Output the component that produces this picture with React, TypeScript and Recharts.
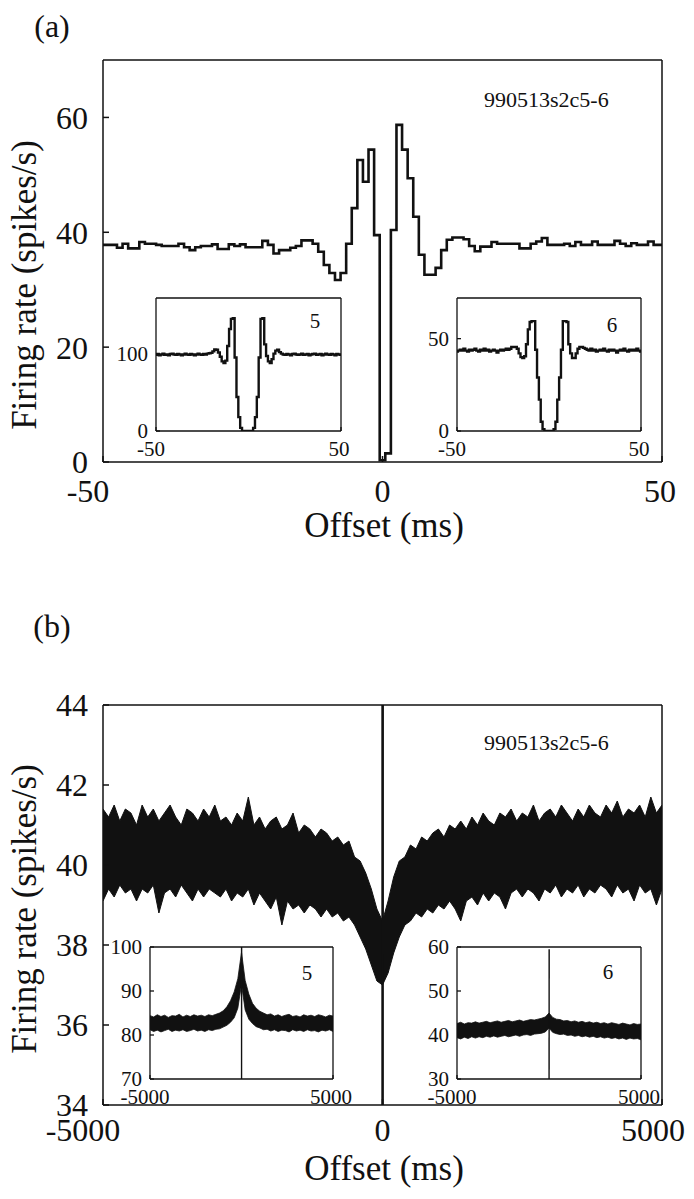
import React from "react";
import { Area, ComposedChart, Line, XAxis, YAxis } from "recharts";

const INK = "#111";
const SERIF = '"Liberation Serif", "Times New Roman", serif';

// (a) 1 ms cross-correlogram, one value per bin centred on -50 … 50 ms
const shortStartMs = -50;
const shortStepMs = 1;
const pairRates = [
  37.8, 37.8, 37.8, 37.3, 38.0, 37.2, 37.2, 38.3, 38.0, 38.0,
  37.8, 37.6, 37.6, 37.6, 38.0, 37.4, 36.9, 37.4, 37.6, 37.6,
  37.9, 37.1, 37.1, 37.9, 37.6, 37.9, 37.4, 37.4, 37.4, 38.5,
  37.8, 36.3, 36.9, 36.9, 37.3, 37.6, 38.6, 38.6, 38.0, 36.6,
  34.3, 32.9, 31.7, 32.9, 38.0, 44.2, 52.6, 48.8, 54.4, 39.5,
  0.3, 1.5, 40.4, 58.7, 54.4, 49.4, 42.7, 36.1, 32.6, 32.6,
  33.8, 36.9, 38.7, 39.1, 39.1, 38.8, 37.6, 36.7, 37.5, 37.5,
  38.3, 38.0, 38.0, 38.0, 38.0, 37.2, 37.2, 38.0, 38.4, 39.0,
  37.8, 37.8, 37.8, 38.0, 37.6, 38.3, 37.8, 37.8, 38.4, 37.8,
  37.8, 37.8, 38.5, 38.0, 37.6, 38.1, 37.8, 37.8, 38.4, 37.8,
  37.8,
];
// auto-correlograms of cells 5 and 6 (insets)
const cell5Rates = [
  98.5, 99.5, 98.0, 99.0, 100.0, 98.5, 99.0, 98.0, 99.5, 100.0,
  99.0, 98.5, 99.5, 99.0, 98.0, 99.0, 100.0, 99.0, 98.5, 99.5,
  99.0, 98.0, 99.0, 100.0, 99.0, 98.5, 99.5, 99.0, 100.0, 100.5,
  101.0, 103.0, 105.5, 105.0, 101.5, 96.0, 90.0, 88.0, 91.0, 110.0,
  132.0, 145.0, 146.0, 95.0, 44.0, 18.0, 4.0, 0, 0, 0,
  0, 0, 0, 4.0, 18.0, 44.0, 95.0, 145.0, 146.0, 112.0,
  97.0, 90.0, 88.0, 93.0, 100.0, 104.0, 105.0, 102.0, 100.0, 99.0,
  98.5, 99.5, 99.0, 98.0, 99.5, 100.0, 99.0, 98.5, 99.0, 100.0,
  98.5, 99.0, 99.5, 98.0, 99.0, 99.5, 100.0, 98.5, 99.0, 99.5,
  98.0, 99.0, 100.0, 99.0, 98.5, 99.5, 99.0, 98.0, 99.5, 99.0,
  98.5,
];
const cell6Rates = [
  43.0, 43.5, 44.0, 43.5, 44.5, 43.5, 43.0, 44.0, 43.5, 44.0,
  44.5, 43.5, 43.0, 44.0, 43.5, 44.5, 43.5, 44.0, 43.0, 43.5,
  44.0, 43.5, 42.5, 43.5, 44.0, 43.5, 44.0, 44.5, 44.0, 44.5,
  45.5, 45.5, 45.5, 44.5, 42.0, 40.0, 39.5, 40.5, 47.0, 55.0,
  59.0, 59.5, 59.5, 44.0, 29.0, 17.0, 5.0, 1.0, 0, 0,
  0, 0, 0, 1.0, 5.0, 17.0, 29.0, 44.0, 59.5, 59.5,
  59.0, 47.0, 42.0, 39.5, 39.5, 42.0, 44.5, 45.5, 45.5, 45.0,
  44.5, 44.0, 43.5, 44.5, 43.5, 44.0, 43.0, 43.5, 44.0, 43.5,
  44.5, 43.5, 43.0, 44.0, 43.5, 44.0, 43.5, 42.5, 43.5, 44.0,
  43.5, 44.5, 43.5, 43.0, 44.0, 43.5, 44.0, 43.5, 44.5, 43.5,
  43.0,
];

// (b) long-range correlogram: upper / lower envelope of the 1 ms trace, every 100 ms
const longStartMs = -5000;
const longStepMs = 100;
const longUpper = [
  41.4, 41.2, 41.5, 41.1, 41.4, 41.3, 41.0, 41.5, 41.2, 41.4,
  41.1, 41.3, 41.5, 41.2, 41.0, 41.4, 41.3, 41.1, 41.4, 41.2,
  41.5, 41.1, 41.2, 41.0, 41.3, 41.1, 41.7, 41.0, 41.2, 40.9,
  41.1, 41.2, 40.9, 41.0, 41.3, 40.8, 41.0, 40.9, 40.7, 40.9,
  40.8, 40.6, 40.7, 40.5, 40.6, 40.2, 40.1, 39.8, 39.4, 38.9,
  38.6, 39.1, 39.7, 40.1, 40.2, 40.5, 40.4, 40.7, 40.6, 40.8,
  40.9, 40.7, 41.0, 40.9, 41.1, 40.9, 41.2, 41.0, 41.3, 41.1,
  41.0, 41.3, 41.2, 41.4, 41.1, 41.3, 41.2, 41.5, 41.1, 41.3,
  41.4, 41.2, 41.5, 41.3, 41.1, 41.4, 41.2, 41.5, 41.3, 41.2,
  41.5, 41.3, 41.6, 41.2, 41.4, 41.3, 41.5, 41.2, 41.7, 41.3,
  41.5,
];
const longLower = [
  39.1, 39.4, 39.2, 39.5, 39.3, 39.4, 39.1, 39.4, 39.3, 39.5,
  38.8, 39.3, 39.4, 39.2, 39.5, 39.3, 39.1, 39.4, 39.2, 39.4,
  39.3, 39.2, 39.4, 39.1, 39.3, 39.2, 39.4, 39.0, 39.3, 39.1,
  38.9, 39.2, 38.5, 39.1, 38.9, 39.0, 38.8, 39.0, 38.9, 38.7,
  38.9, 38.7, 38.8, 38.6, 38.7, 38.5, 38.2, 37.9, 37.5, 37.1,
  37.0, 37.3, 37.8, 38.2, 38.5, 38.6, 38.8, 38.7, 38.9, 38.8,
  39.0, 38.9, 39.1, 38.9, 38.6, 39.1, 39.2, 39.0, 39.3, 39.1,
  39.3, 39.2, 38.9, 39.3, 39.4, 39.2, 39.4, 39.3, 39.1, 39.4,
  39.3, 39.5, 39.2, 39.4, 39.3, 39.5, 39.2, 39.4, 39.3, 39.5,
  39.4, 39.2, 39.5, 39.3, 39.4, 39.1, 39.5, 39.3, 39.4, 39.0,
  39.4,
];
// insets (b), every 200 ms
const insetStepMs = 200;
const cell5Upper = [
  84.4, 84.1, 84.6, 84.2, 84.5, 84.0, 84.4, 84.3, 84.7, 84.1,
  84.5, 84.2, 84.6, 84.3, 84.5, 84.2, 84.6, 84.4, 84.7, 85.0,
  85.5, 86.4, 87.8, 89.8, 92.8, 98.8, 92.4, 89.3, 87.2, 86.1,
  85.4, 85.0, 84.6, 84.8, 84.3, 84.6, 84.2, 84.5, 84.7, 84.2,
  84.4, 84.1, 84.6, 84.3, 84.5, 84.2, 84.6, 84.4, 84.1, 84.5, 84.3,
];
const cell5Lower = [
  81.2, 80.8, 81.1, 80.7, 81.0, 81.3, 80.8, 81.1, 80.9, 81.2,
  80.8, 81.0, 81.3, 80.9, 81.1, 80.8, 81.2, 81.0, 81.3, 81.4,
  81.8, 82.2, 82.9, 83.9, 86.1, 91.5, 85.7, 83.6, 82.6, 81.9,
  81.6, 81.2, 81.3, 80.9, 81.2, 80.8, 81.1, 81.0, 80.7, 81.2,
  80.9, 81.1, 80.8, 81.2, 80.9, 81.0, 80.7, 81.1, 80.9, 81.2, 80.8,
];
const cell6Upper = [
  42.6, 42.9, 42.5, 42.8, 42.7, 43.0, 42.7, 42.9, 43.1, 42.8,
  43.0, 43.2, 42.9, 43.1, 43.3, 43.0, 43.2, 43.4, 43.1, 43.3,
  43.5, 43.4, 43.6, 43.8, 44.1, 45.0, 44.0, 43.6, 43.5, 43.2,
  43.3, 43.0, 43.2, 42.9, 43.1, 42.8, 43.0, 42.7, 42.9, 42.6,
  42.8, 42.5, 42.8, 42.6, 42.4, 42.7, 42.5, 42.3, 42.6, 42.4, 42.5,
];
const cell6Lower = [
  39.4, 39.1, 39.5, 39.2, 39.6, 39.3, 39.6, 39.4, 39.7, 39.5,
  39.8, 39.5, 39.7, 39.9, 39.6, 39.8, 40.0, 39.7, 40.0, 40.1,
  39.9, 40.2, 40.3, 40.4, 40.7, 41.6, 40.6, 40.3, 40.1, 40.2,
  39.9, 40.0, 39.7, 39.9, 39.6, 39.8, 39.5, 39.7, 39.4, 39.6,
  39.3, 39.5, 39.2, 39.4, 39.1, 39.3, 39.0, 39.3, 39.1, 39.2, 38.9,
];

// zero-lag bins (min and max of the 1 ms histograms) collapse to one stroke at 10 s scale
const pairZeroLagMs = [0, 3];
const pairZeroLagRates = [0.3, 58.7];
const cell5ZeroLagMs = [0, 8];
const cell5ZeroLagRates = [0, 146];
const cell6ZeroLagMs = [0, 9];
const cell6ZeroLagRates = [0, 59.5];

const steps = (rates: number[], start: number, step: number) =>
  rates.map((rate, i) => ({ x: start + i * step, rate }));
const band = (lo: number[], hi: number[], start: number, step: number) =>
  lo.map((l, i) => ({ x: start + i * step, band: [l, hi[i]] }));
const pairs = (xs: number[], ys: number[]) => xs.map((x, i) => ({ x, rate: ys[i] }));

function BottomTick(props: any) {
  const { x, y, payload, fontSize, negShift, posShift } = props;
  const v = payload.value as number;
  const dx = v < 0 ? negShift : v > 0 ? posShift : 0;
  return (
    <text x={x + dx} y={y} dy="0.71em" textAnchor="middle" fontSize={fontSize} fill={INK} style={{ fontFamily: SERIF }}>
      {v}
    </text>
  );
}

type Box = { x: number; y: number; w: number; h: number };

function Panel(props: {
  box: Box;
  xDomain: [number, number];
  yDomain: [number, number];
  xTicks: number[];
  yTicks: number[];
  rightTicks: number[];
  topTicks: number[];
  data: any[];
  fontSize: number;
  tickLen: number;
  yGap: number;
  xGap: number;
  negShift: number;
  posShift: number;
  frame: number;
  opaque?: boolean;
  children: React.ReactNode;
}) {
  const { box, xDomain, yDomain, fontSize, tickLen, frame } = props;
  const padL = 80, padR = 32, padT = 20, padB = 70;
  const yW = 40, rW = 6, tH = 6, bH = 30;
  const width = box.w + padL + padR;
  const height = box.h + padT + padB;
  const line = { stroke: INK, strokeWidth: frame };
  return (
    <div style={{ position: "absolute", left: box.x - padL, top: box.y - padT, width, height }}>
      {props.opaque && (
        <div style={{ position: "absolute", left: padL, top: padT, width: box.w, height: box.h, background: "#fff" }} />
      )}
      <div style={{ position: "absolute", left: 0, top: 0 }}>
        <ComposedChart
          width={width}
          height={height}
          data={props.data}
          margin={{ left: padL - yW, right: padR - rW, top: padT - tH, bottom: padB - bH }}
        >
          <XAxis
            xAxisId="b"
            dataKey="x"
            type="number"
            domain={xDomain}
            allowDataOverflow
            ticks={props.xTicks}
            interval={0}
            height={bH}
            tickSize={-tickLen}
            tickMargin={props.xGap + tickLen - 1}
            tick={(p: any) => (
              <BottomTick {...p} fontSize={fontSize} negShift={props.negShift} posShift={props.posShift} />
            )}
            axisLine={line}
            tickLine={line}
          />
          <XAxis
            xAxisId="t"
            orientation="top"
            dataKey="x"
            type="number"
            domain={xDomain}
            allowDataOverflow
            ticks={props.topTicks}
            interval={0}
            height={tH}
            tickSize={-tickLen}
            tick={false}
            axisLine={line}
            tickLine={line}
          />
          <YAxis
            yAxisId="l"
            type="number"
            domain={yDomain}
            allowDataOverflow
            ticks={props.yTicks}
            interval={0}
            width={yW}
            tickSize={-tickLen}
            tickMargin={props.yGap + tickLen}
            tick={{ fontSize, fill: INK, style: { fontFamily: SERIF } }}
            axisLine={line}
            tickLine={line}
          />
          <YAxis
            yAxisId="r"
            orientation="right"
            type="number"
            domain={yDomain}
            allowDataOverflow
            ticks={props.rightTicks}
            interval={0}
            width={rW}
            tickSize={-tickLen}
            tick={false}
            axisLine={line}
            tickLine={line}
          />
          {props.children}
        </ComposedChart>
      </div>
    </div>
  );
}

const mainA: Box = { x: 103, y: 60, w: 559, h: 402 };
const insetA5: Box = { x: 156, y: 298, w: 185, h: 133 };
const insetA6: Box = { x: 457, y: 298, w: 184, h: 133 };
const mainB: Box = { x: 103, y: 705, w: 559, h: 400 };
const insetB5: Box = { x: 150, y: 947, w: 183, h: 132 };
const insetB6: Box = { x: 457, y: 947, w: 184, h: 132 };

const mainProps = { fontSize: 32, tickLen: 6, yGap: 15, frame: 1.5 };
const insetProps = { fontSize: 21, tickLen: 4, yGap: 8, xGap: 11, negShift: -5, posShift: -2, frame: 1.3 };

const label = { fontFamily: SERIF, fill: INK } as const;

export default function App() {
  return (
    <div
      style={{
        position: "absolute",
        left: 0,
        top: 0,
        width: 694,
        height: 1199,
        background: "#fff",
        fontFamily: SERIF,
        overflow: "hidden",
      }}
    >
      {/* (a) */}
      <Panel
        box={mainA}
        xDomain={[-50, 50]}
        yDomain={[0, 70]}
        xTicks={[-50, 0, 50]}
        yTicks={[0, 20, 40, 60]}
        rightTicks={[20, 40, 60]}
        topTicks={[0]}
        data={steps(pairRates, shortStartMs, shortStepMs)}
        xGap={18}
        negShift={-15}
        posShift={-2}
        {...mainProps}
      >
        <Line xAxisId="b" yAxisId="l" dataKey="rate" type="step" stroke={INK} strokeWidth={2.6} dot={false} activeDot={false} isAnimationActive={false} />
      </Panel>
      <Panel
        box={insetA5}
        xDomain={[-50, 50]}
        yDomain={[0, 172]}
        xTicks={[-50, 50]}
        yTicks={[0, 100]}
        rightTicks={[100]}
        topTicks={[-50]}
        data={steps(cell5Rates, shortStartMs, shortStepMs)}
        opaque
        {...insetProps}
      >
        <Line xAxisId="b" yAxisId="l" dataKey="rate" type="step" stroke={INK} strokeWidth={2.4} dot={false} activeDot={false} isAnimationActive={false} />
      </Panel>
      <Panel
        box={insetA6}
        xDomain={[-50, 50]}
        yDomain={[0, 72]}
        xTicks={[-50, 50]}
        yTicks={[0, 50]}
        rightTicks={[50]}
        topTicks={[-50]}
        data={steps(cell6Rates, shortStartMs, shortStepMs)}
        opaque
        {...insetProps}
      >
        <Line xAxisId="b" yAxisId="l" dataKey="rate" type="step" stroke={INK} strokeWidth={2.4} dot={false} activeDot={false} isAnimationActive={false} />
      </Panel>

      {/* (b) */}
      <Panel
        box={mainB}
        xDomain={[-5000, 5000]}
        yDomain={[34, 44]}
        xTicks={[-5000, 0, 5000]}
        yTicks={[34, 36, 38, 40, 42, 44]}
        rightTicks={[36, 38, 40, 42]}
        topTicks={[0]}
        data={band(longLower, longUpper, longStartMs, longStepMs)}
        xGap={14}
        negShift={-20}
        posShift={-9}
        {...mainProps}
      >
        <Area xAxisId="b" yAxisId="l" dataKey="band" type="linear" stroke={INK} strokeWidth={1} fill={INK} fillOpacity={1} isAnimationActive={false} />
        <Line xAxisId="b" yAxisId="l" data={pairs(pairZeroLagMs, pairZeroLagRates)} dataKey="rate" type="linear" stroke={INK} strokeWidth={2.6} dot={false} activeDot={false} isAnimationActive={false} />
      </Panel>
      <Panel
        box={insetB5}
        xDomain={[-5000, 5000]}
        yDomain={[70, 100]}
        xTicks={[-5000, 5000]}
        yTicks={[70, 80, 90, 100]}
        rightTicks={[80, 90]}
        topTicks={[-5000]}
        data={band(cell5Lower, cell5Upper, longStartMs, insetStepMs)}
        opaque
        {...insetProps}
      >
        <Area xAxisId="b" yAxisId="l" dataKey="band" type="linear" stroke={INK} strokeWidth={0.8} fill={INK} fillOpacity={1} isAnimationActive={false} />
        <Line xAxisId="b" yAxisId="l" data={pairs(cell5ZeroLagMs, cell5ZeroLagRates)} dataKey="rate" type="linear" stroke={INK} strokeWidth={1.4} dot={false} activeDot={false} isAnimationActive={false} />
      </Panel>
      <Panel
        box={insetB6}
        xDomain={[-5000, 5000]}
        yDomain={[30, 60]}
        xTicks={[-5000, 5000]}
        yTicks={[30, 40, 50, 60]}
        rightTicks={[40, 50]}
        topTicks={[-5000]}
        data={band(cell6Lower, cell6Upper, longStartMs, insetStepMs)}
        opaque
        {...insetProps}
      >
        <Area xAxisId="b" yAxisId="l" dataKey="band" type="linear" stroke={INK} strokeWidth={0.8} fill={INK} fillOpacity={1} isAnimationActive={false} />
        <Line xAxisId="b" yAxisId="l" data={pairs(cell6ZeroLagMs, cell6ZeroLagRates)} dataKey="rate" type="linear" stroke={INK} strokeWidth={1.4} dot={false} activeDot={false} isAnimationActive={false} />
      </Panel>

      <svg width={694} height={1199} style={{ position: "absolute", left: 0, top: 0, pointerEvents: "none" }}>
        <text x={52} y={37} fontSize={32} textAnchor="middle" style={label}>(a)</text>
        <text x={52} y={637} fontSize={32} textAnchor="middle" style={label}>(b)</text>
        <text x={484} y={107} fontSize={22} style={label}>990513s2c5-6</text>
        <text x={484} y={750} fontSize={22} style={label}>990513s2c5-6</text>
        <text x={384} y={537} fontSize={35} textAnchor="middle" style={label}>Offset (ms)</text>
        <text x={384} y={1180} fontSize={35} textAnchor="middle" style={label}>Offset (ms)</text>
        <text x={36} y={285} fontSize={35} textAnchor="middle" transform="rotate(-90 36 285)" style={label}>
          Firing rate (spikes/s)
        </text>
        <text x={36} y={909} fontSize={35} textAnchor="middle" transform="rotate(-90 36 909)" style={label}>
          Firing rate (spikes/s)
        </text>
        <text x={315} y={328} fontSize={21} textAnchor="middle" style={label}>5</text>
        <text x={612} y={332} fontSize={21} textAnchor="middle" style={label}>6</text>
        <text x={307} y={980} fontSize={21} textAnchor="middle" style={label}>5</text>
        <text x={608} y={979} fontSize={21} textAnchor="middle" style={label}>6</text>
      </svg>
    </div>
  );
}
